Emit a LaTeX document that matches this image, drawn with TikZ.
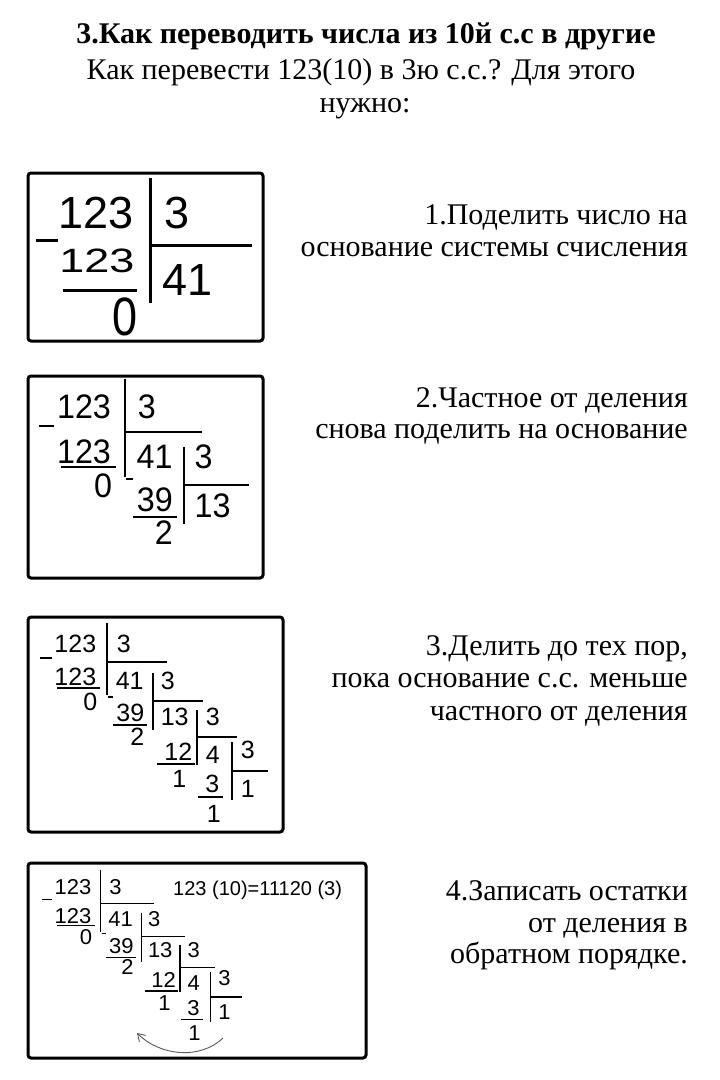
\documentclass[tikz,border=0pt]{standalone}
\usepackage{fontspec}
\setmainfont{Liberation Serif}
\newfontfamily\arialf{Liberation Sans}
\usetikzlibrary{arrows.meta}
\tikzset{
  frame/.style={draw=black,line width=3pt,rounded corners=3pt},
  dg/.style={inner sep=0pt,font=\arialf\fontsize{25}{25}\selectfont},
  dgbig/.style={inner sep=0pt,font=\arialf\fontsize{45}{45}\selectfont},
  ln/.style={draw=black,line cap=butt},
  txt/.style={inner sep=0pt,font=\fontsize{30}{34}\selectfont},
  ttl/.style={inner sep=0pt,font=\bfseries\fontsize{30}{34}\selectfont},
}
% step 0 of the staircase (local coordinates, y downwards)
\newcommand\stepA[1]{%
  \node[dg,anchor=base east] (#1a1) at (42,17) {123};
  \node[dg,anchor=base west] (#1a2) at (61,17) {3};
  \draw[ln] (52,-12) -- (52,60);
  \draw[ln] (52,27) -- (112,27);
  \draw[ln] (-15,23) -- (-3,23);
  \node[dg,anchor=base east] (#1a3) at (42,50) {123};
  \draw[ln] (2,53) -- (45,53);
  \node[dg,anchor=base east] (#1a4) at (43,75) {0};
  \node[dg,anchor=base west] (#1a5) at (60,54) {41};
}
\newcommand\stepB[1]{%
  \node[dg,anchor=base west] (#1b2) at (105,54) {3};
  \draw[ln] (98,38) -- (98,95);
  \draw[ln] (98,66) -- (148,66);
  \draw[ln] (53,62) -- (58,62);
  \node[dg,anchor=base east] (#1b3) at (90,86) {39};
  \draw[ln] (58,90) -- (92,90);
  \node[dg,anchor=base east] (#1b4) at (90,110) {2};
  \node[dg,anchor=base west] (#1b5) at (105,90) {13};
}
\newcommand\stepC[1]{%
  \node[dg,anchor=base west] (#1c2) at (150,90) {3};
  \draw[ln] (142,75) -- (142,130);
  \draw[ln] (142,102) -- (182,102);
  \node[dg,anchor=base east] (#1c3) at (138,125) {12};
  \draw[ln] (102,129) -- (140,129);
  \node[dg,anchor=base east] (#1c4) at (132,152) {1};
  \node[dg,anchor=base west] (#1c5) at (150,128) {4};
}
\newcommand\stepD[1]{%
  \node[dg,anchor=base west] (#1d2) at (185,123) {3};
  \draw[ln] (177,107) -- (177,165);
  \draw[ln] (177,136) -- (213,136);
  \node[dg,anchor=base east] (#1d3) at (165,157) {3};
  \draw[ln] (143,162) -- (168,162);
  \node[dg,anchor=base west] (#1d4) at (151,187) {1};
  \node[dg,anchor=base west] (#1d5) at (185,162) {1};
}
\begin{document}
\begin{tikzpicture}[x=1pt,y=-1pt]
\useasboundingbox[fill=white] (0,0) rectangle (720,1080);

% title
\node[ttl,anchor=base] (t1) at (366,43) {3.Как переводить числа из 10й с.с в другие};
\node[txt,anchor=base] (t2) at (361,79) {Как перевести 123(10) в 3ю с.с.? Для этого};
\node[txt,anchor=base] (t3) at (365,112) {нужно:};

% frames
\draw[frame] (28,173) rectangle (263,341);
\draw[frame] (28,376) rectangle (263,578);
\draw[frame] (28,617) rectangle (283,832);
\draw[frame] (28,863) rectangle (366,1058);

% box 1
\begin{scope}[line width=3pt]
  \node[dgbig,anchor=base east] (p1) at (135,228) {123};
  \node[dgbig,anchor=base west] (p2) at (163,228) {3};
  \draw[ln] (150,178) -- (150,303);
  \draw[ln] (150,245) -- (252,245);
  \draw[ln] (36,240) -- (58,240);
  \node[dgbig,anchor=base east,yscale=0.75] (p3) at (136,272) {123};
  \draw[ln] (63,290) -- (137,290);
  \node[dgbig,anchor=base east,yscale=1.2] (p4) at (139,335) {0};
  \node[dgbig,anchor=base west] (p5) at (161,295) {41};
\end{scope}

% box 2
\begin{scope}[shift={(58,395)},xscale=1.29,yscale=1.36,transform shape,line width=2pt]
  \stepA{q}
  \stepB{q}
\end{scope}

% box 3
\begin{scope}[shift={(55,635)},line width=1.6pt]
  \stepA{r}
  \stepB{r}
  \stepC{r}
  \stepD{r}
\end{scope}

% box 4
\begin{scope}[shift={(55,880)},xscale=0.88,yscale=0.86,transform shape,line width=1.4pt]
  \stepA{s}
  \stepB{s}
  \stepC{s}
  \stepD{s}
\end{scope}
\node[inner sep=0pt,anchor=base west,font=\arialf\fontsize{20}{20}\selectfont] (res) at (173,895) {123 (10)=11120 (3)};
\coordinate (arS) at (223,1038);
\coordinate (arE) at (137,1033);
\draw[draw=black!65,line width=0.9pt,-{Straight Barb[length=7pt,width=9pt]}] (arS) .. controls (200,1060) and (160,1056) .. (arE);

% right texts
\node[txt,anchor=base east] (r11) at (688,224) {1.Поделить число на};
\node[txt,anchor=base east] (r12) at (688,256) {основание системы счисления};
\node[txt,anchor=base east] (r21) at (688,407) {2.Частное от деления};
\node[txt,anchor=base east] (r22) at (688,438) {снова поделить на основание};
\node[txt,anchor=base east] (r31) at (688,655) {3.Делить до тех пор,};
\node[txt,anchor=base east] (r32) at (688,687) {пока основание с.с. меньше};
\node[txt,anchor=base east] (r33) at (688,720) {частного от деления};
\node[txt,anchor=base east] (r41) at (688,900) {4.Записать остатки};
\node[txt,anchor=base east] (r42) at (688,932) {от деления в};
\node[txt,anchor=base east] (r43) at (688,963) {обратном порядке.};
\end{tikzpicture}
\end{document}
